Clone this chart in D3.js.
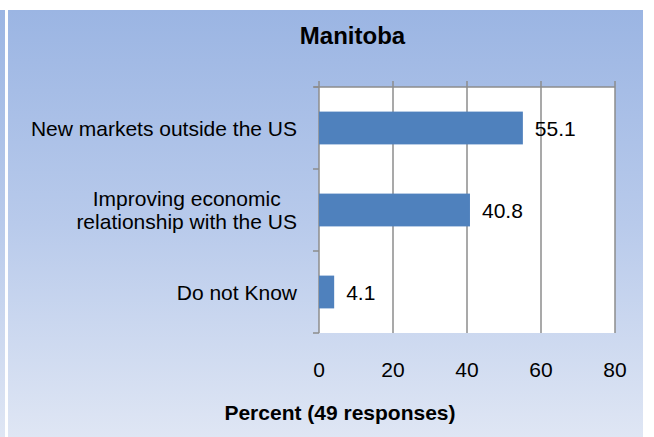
<!DOCTYPE html>
<html><head><meta charset="utf-8">
<script src="https://cdn.jsdelivr.net/npm/d3@7"></script>
<style>body{margin:0;background:#fff}svg{display:block}text{font-family:"Liberation Sans",Arial,sans-serif;fill:#000}</style>
</head><body><svg id="c" width="654" height="437"></svg>
<script>
const title = "Manitoba";
const categories = [["New markets outside the US"], ["Improving economic", "relationship with the US"], ["Do not Know"]];
const values = [55.1, 40.8, 4.1];
const xTicks = [0, 20, 40, 60, 80];
const xTitle = "Percent (49 responses)";

const svg = d3.select("#c");
const W = 654, H = 437;
const defs = svg.append("defs");
const g = defs.append("linearGradient").attr("id", "bg").attr("x1", 0).attr("y1", 0).attr("x2", 0).attr("y2", 1);
g.append("stop").attr("offset", "0%").attr("stop-color", "#9bb5e3");
g.append("stop").attr("offset", "50%").attr("stop-color", "#b8caeb");
g.append("stop").attr("offset", "100%").attr("stop-color", "#dfe6f4");

svg.append("rect").attr("x", 0).attr("y", 10).attr("width", 5).attr("height", H - 10).attr("fill", "url(#bg)");
svg.append("rect").attr("x", 8).attr("y", 10).attr("width", 635).attr("height", H - 10).attr("fill", "url(#bg)");

const plot = {l: 319, r: 615, t: 87, b: 333};
const x = d3.scaleLinear().domain([0, 80]).range([plot.l, plot.r]);
const y = d3.scaleBand().domain(d3.range(categories.length)).range([plot.t, plot.b]).paddingInner(0.6).paddingOuter(0.3);

function txt(parent, tx, ty, s, opts) {
  const t = parent.append("text").attr("x", tx).attr("y", ty)
    .attr("font-size", opts.size).attr("text-anchor", opts.anchor || "start").text(s);
  if (opts.bold) t.attr("font-weight", "bold");
  return t;
}

svg.append("rect").attr("x", plot.l).attr("y", plot.t).attr("width", plot.r - plot.l).attr("height", plot.b - plot.t).attr("fill", "#fff");

xTicks.forEach(v => {
  svg.append("line").attr("x1", x(v)).attr("x2", x(v)).attr("y1", plot.t - 6).attr("y2", plot.b)
    .attr("stroke", "#8c8c8c").attr("stroke-width", 1.5);
});
svg.append("line").attr("x1", plot.l - 5).attr("x2", plot.r).attr("y1", plot.t).attr("y2", plot.t).attr("stroke", "#8c8c8c").attr("stroke-width", 1.5);
const bounds = d3.range(categories.length + 1).map(i => plot.t + i * y.step());
bounds.forEach(b => {
  svg.append("line").attr("x1", plot.l - 6).attr("x2", plot.l).attr("y1", b).attr("y2", b).attr("stroke", "#8c8c8c").attr("stroke-width", 1.5);
});

svg.selectAll(".bar").data(values).join("rect").attr("class", "bar")
  .attr("x", x(0)).attr("y", (d, i) => y(i)).attr("width", d => x(d) - x(0)).attr("height", y.bandwidth())
  .attr("fill", "#4f81bd");

values.forEach((v, i) => {
  txt(svg, x(v) + 12, y(i) + y.bandwidth() / 2 + 8, v.toFixed(1), {size: 21});
});

categories.forEach((lines, i) => {
  const tmp = lines.map(s => txt(svg, 0, 0, s, {size: 21}));
  const widths = tmp.map(t => t.node().getComputedTextLength());
  tmp.forEach(t => t.remove());
  const bw = d3.max(widths);
  const cx = 297 - bw / 2;
  const lh = 23;
  const cy = y(i) + y.bandwidth() / 2;
  lines.forEach((s, k) => {
    txt(svg, cx, cy + 7.5 + (k - (lines.length - 1) / 2) * lh, s, {size: 21, anchor: "middle"});
  });
});

xTicks.forEach(v => txt(svg, x(v), 377, String(v), {size: 21, anchor: "middle"}));

txt(svg, 340, 420, xTitle, {size: 21, anchor: "middle", bold: true});
txt(svg, 352.5, 44, title, {size: 24, anchor: "middle", bold: true});
</script></body></html>
